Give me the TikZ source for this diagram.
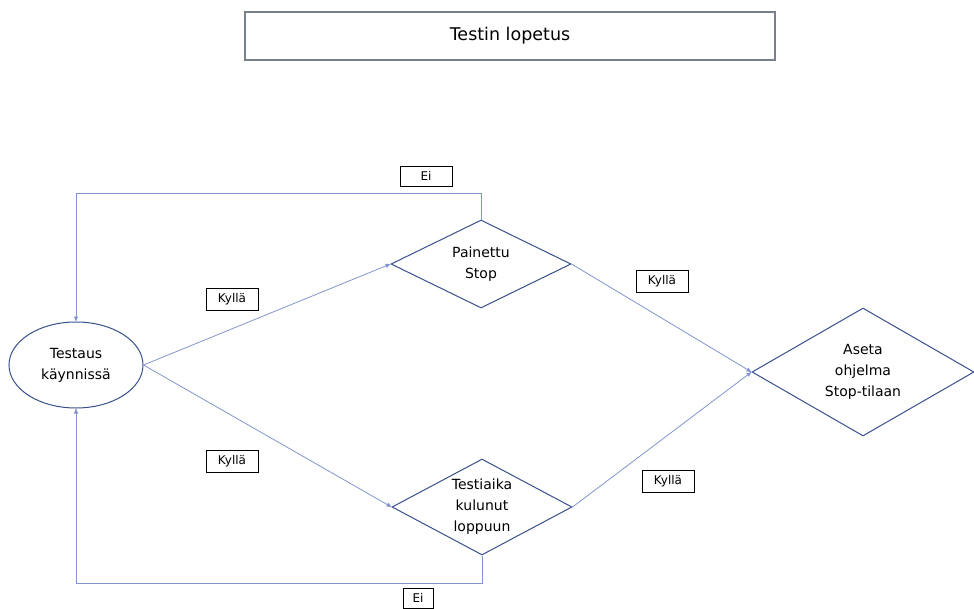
\documentclass[tikz,border=0pt]{standalone}
\usepackage{fontspec}
\setmainfont{DejaVu Sans}
\usetikzlibrary{shapes.geometric,arrows.meta}
\definecolor{linkblue}{RGB}{130,150,205}
\definecolor{shapeblue}{RGB}{55,80,140}
\definecolor{titlegray}{RGB}{120,128,140}
\begin{document}
\begin{tikzpicture}[x=1pt,y=-1pt, every node/.style={font=\fontsize{14}{21}\selectfont, align=center},
    decision/.style={diamond, aspect=1.9, draw=shapeblue, line width=1pt, inner sep=0pt},
    answer/.style={draw=black, line width=0.8pt, minimum width=52, minimum height=22, inner sep=1pt, font=\fontsize{12}{14}\selectfont},
    link/.style={draw=linkblue, line width=0.8pt, -{Triangle[length=5pt,width=4pt]}}]
    \useasboundingbox (0,0) rectangle (974,608);
    % title
    \node [draw=titlegray, line width=1.2pt, minimum width=530, minimum height=48, font=\fontsize{17.5}{20}\selectfont] (Title) at (510,36) {Testin lopetus};
    % states
    \node [ellipse, draw=shapeblue, line width=1pt, minimum width=134, minimum height=86, inner sep=0pt] (Testaus) at (76,365) {Testaus\\käynnissä};
    \node [decision, minimum width=180, minimum height=88] (Stop) at (481,264) {Painettu\\Stop};
    \node [decision, minimum width=180, minimum height=96] (Aika) at (482,507) {Testiaika\\kulunut\\loppuun};
    \node [decision, minimum width=222, minimum height=128] (Aseta) at (863,372) {Aseta\\ohjelma\\Stop-tilaan};
    % answers
    \node [answer] (K1) at (232,299) {Kyllä};
    \node [answer] (K2) at (662,281) {Kyllä};
    \node [answer] (K3) at (232,461) {Kyllä};
    \node [answer] (K4) at (668,481) {Kyllä};
    \node [answer, minimum width=52, minimum height=20] (E1) at (426,176) {Ei};
    \node [answer, minimum width=30, minimum height=20] (E2) at (418,598) {Ei};
    \coordinate (TopBend) at (76,193);
    \coordinate (LowBend) at (76,583);
    \draw [link] (Testaus.east) -- (Stop.west);
    \draw [link] (Testaus.east) -- (Aika.west);
    \draw [link] (Stop.east) -- (Aseta.west);
    \draw [link] (Aika.east) -- (Aseta.west);
    \draw [link] (Stop.north) |- (TopBend) -- (Testaus.north);
    \draw [link] (Aika.south) |- (LowBend) -- (Testaus.south);
\end{tikzpicture}
\end{document}
